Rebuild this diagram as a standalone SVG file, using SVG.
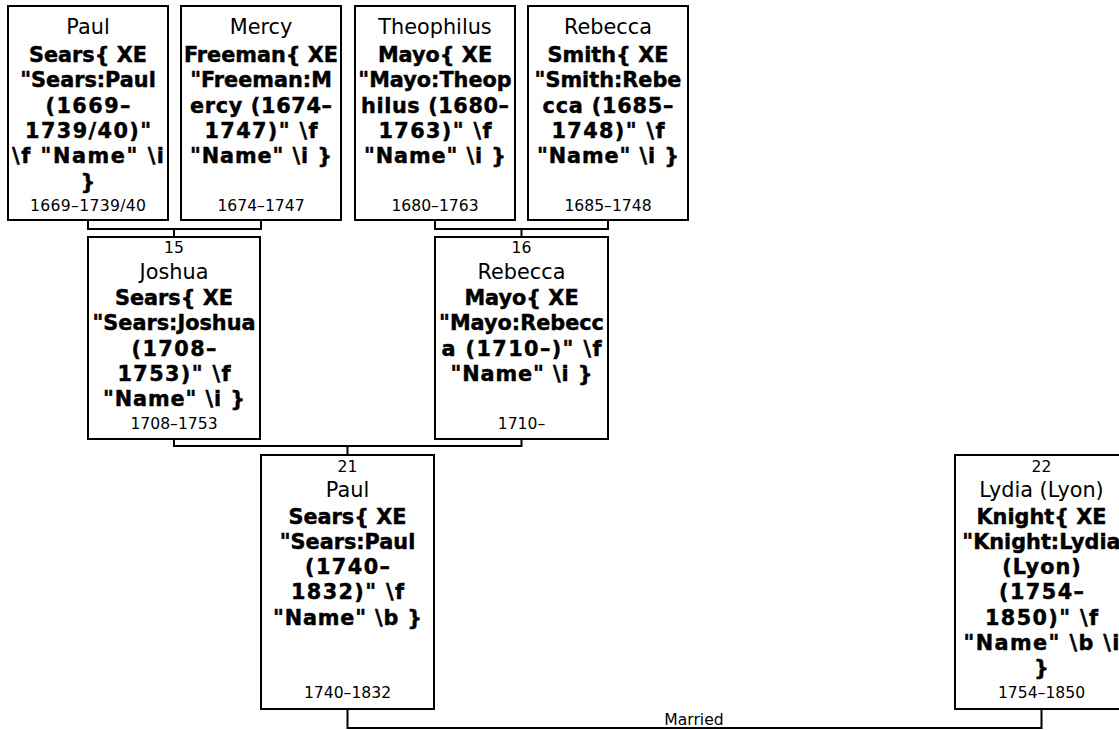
<svg xmlns="http://www.w3.org/2000/svg" width="1119" height="730" viewBox="0 0 1119 730">
<style>
.box{fill:#fff;stroke:#000;stroke-width:2}
.conn{fill:none;stroke:#000;stroke-width:2}
text{font-family:"DejaVu Sans",Verdana,sans-serif;fill:#000;text-anchor:middle}
.g{font-size:20.8px}
.b{font-size:20.8px;font-weight:bold;stroke:#000;stroke-width:0.45}
.s{font-size:15.6px}
</style>
<rect width="1119" height="730" fill="#fff"/>
<g id="connectors">
<path class="conn" d="M88,220V229H261V220M174,229V237"/>
<path class="conn" d="M435,220V229H608V220M521.5,229V237"/>
<path class="conn" d="M174,439V446H521.5V439M347.5,446V455"/>
<path class="conn" d="M347.5,709V728H1041.5V709"/>
<text class="s" x="694" y="725">Married</text>
</g>
<g id="n-paul-1669">
<rect class="box" x="8" y="6" width="160" height="214"/>
<text class="g" x="88" y="33.5">Paul</text>
<text class="b" x="88" y="62">Sears{ XE</text>
<text class="b" x="88" y="87.3">"Sears:Paul</text>
<text class="b" x="88" y="112.6" textLength="85">(1669–</text>
<text class="b" x="88" y="137.9" textLength="126">1739/40)"</text>
<text class="b" x="88" y="163.2" textLength="152">\f "Name" \i</text>
<text class="b" x="88" y="188.5">}</text>
<text class="s" x="88" y="211" textLength="116">1669–1739/40</text>
</g>
<g id="n-mercy-1674">
<rect class="box" x="181" y="6" width="160" height="214"/>
<text class="g" x="261" y="33.5">Mercy</text>
<text class="b" x="261" y="62">Freeman{ XE</text>
<text class="b" x="261" y="87.3">"Freeman:M</text>
<text class="b" x="261" y="112.6" textLength="142">ercy (1674–</text>
<text class="b" x="261" y="137.9" textLength="113">1747)" \f</text>
<text class="b" x="261" y="163.2" textLength="142">"Name" \i }</text>
<text class="s" x="261" y="211">1674–1747</text>
</g>
<g id="n-theophilus-1680">
<rect class="box" x="355" y="6" width="160" height="214"/>
<text class="g" x="435" y="33.5">Theophilus</text>
<text class="b" x="435" y="62">Mayo{ XE</text>
<text class="b" x="435" y="87.3">"Mayo:Theop</text>
<text class="b" x="435" y="112.6" textLength="148">hilus (1680–</text>
<text class="b" x="435" y="137.9" textLength="113">1763)" \f</text>
<text class="b" x="435" y="163.2" textLength="142">"Name" \i }</text>
<text class="s" x="435" y="211">1680–1763</text>
</g>
<g id="n-rebecca-1685">
<rect class="box" x="528" y="6" width="160" height="214"/>
<text class="g" x="608" y="33.5">Rebecca</text>
<text class="b" x="608" y="62">Smith{ XE</text>
<text class="b" x="608" y="87.3">"Smith:Rebe</text>
<text class="b" x="608" y="112.6" textLength="131">cca (1685–</text>
<text class="b" x="608" y="137.9" textLength="113">1748)" \f</text>
<text class="b" x="608" y="163.2" textLength="142">"Name" \i }</text>
<text class="s" x="608" y="211">1685–1748</text>
</g>
<g id="n15-joshua">
<rect class="box" x="88" y="237" width="172" height="202"/>
<text class="s" x="174" y="253">15</text>
<text class="g" x="174" y="278.5">Joshua</text>
<text class="b" x="174" y="305">Sears{ XE</text>
<text class="b" x="174" y="330.3">"Sears:Joshua</text>
<text class="b" x="174" y="355.6" textLength="85">(1708–</text>
<text class="b" x="174" y="380.9" textLength="113">1753)" \f</text>
<text class="b" x="174" y="406.2" textLength="142">"Name" \i }</text>
<text class="s" x="174" y="429">1708–1753</text>
</g>
<g id="n16-rebecca">
<rect class="box" x="435" y="237" width="173" height="202"/>
<text class="s" x="521.5" y="253">16</text>
<text class="g" x="521.5" y="278.5">Rebecca</text>
<text class="b" x="521.5" y="305">Mayo{ XE</text>
<text class="b" x="521.5" y="330.3">"Mayo:Rebecc</text>
<text class="b" x="521.5" y="355.6" textLength="160">a (1710–)" \f</text>
<text class="b" x="521.5" y="380.9" textLength="142">"Name" \i }</text>
<text class="s" x="521.5" y="429">1710–</text>
</g>
<g id="n21-paul">
<rect class="box" x="261" y="455" width="173" height="254"/>
<text class="s" x="347.5" y="471.5">21</text>
<text class="g" x="347.5" y="497">Paul</text>
<text class="b" x="347.5" y="523.5">Sears{ XE</text>
<text class="b" x="347.5" y="548.8">"Sears:Paul</text>
<text class="b" x="347.5" y="574.1" textLength="85">(1740–</text>
<text class="b" x="347.5" y="599.4" textLength="113">1832)" \f</text>
<text class="b" x="347.5" y="624.7" textLength="149">"Name" \b }</text>
<text class="s" x="347.5" y="698">1740–1832</text>
</g>
<g id="n22-lydia">
<rect class="box" x="955" y="455" width="173" height="254"/>
<text class="s" x="1041.5" y="471.5">22</text>
<text class="g" x="1041.5" y="497">Lydia (Lyon)</text>
<text class="b" x="1041.5" y="523.5">Knight{ XE</text>
<text class="b" x="1041.5" y="548.8">"Knight:Lydia</text>
<text class="b" x="1041.5" y="574.1" textLength="78.5">(Lyon)</text>
<text class="b" x="1041.5" y="599.4" textLength="85">(1754–</text>
<text class="b" x="1041.5" y="624.7" textLength="113">1850)" \f</text>
<text class="b" x="1041.5" y="650" textLength="156">"Name" \b \i</text>
<text class="b" x="1041.5" y="675.3">}</text>
<text class="s" x="1041.5" y="698">1754–1850</text>
</g>
</svg>
